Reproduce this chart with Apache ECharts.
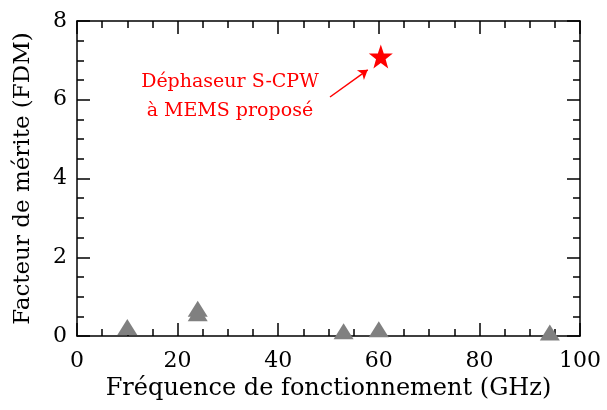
<!DOCTYPE html>
<html>
<head>
<meta charset="utf-8">
<script src="https://cdn.jsdelivr.net/npm/echarts@6/dist/echarts.min.js"></script>
<style>
  html, body { margin: 0; padding: 0; background: #fff; }
  #chart { width: 607px; height: 410px; }
</style>
</head>
<body>
<div id="chart"></div>
<script>
// etat de l'art (triangles gris)
var etatArt = [
  [10, 0.23],
  [24, 0.69],
  [24, 0.58],
  [53, 0.12],
  [60, 0.17],
  [94, 0.09]
];
// ce travail (etoile rouge)
var propose = [[60.4, 7.1]];
var annotation = 'Déphaseur S-CPW\nà MEMS proposé';
var flecheDebut = [50.3, 6.07];
var flecheFin = [57.8, 6.76];
var texteAncre = [30.4, 6.07];

var police = 'DejaVu Serif';
var chart = echarts.init(document.getElementById('chart'));

function axeX(pos, labels) {
  return {
    type: 'value',
    position: pos,
    min: 0, max: 100, interval: 20,
    name: labels ? 'Fréquence de fonctionnement (GHz)' : '',
    nameLocation: 'middle',
    nameGap: 36,
    nameTextStyle: { fontFamily: police, fontSize: 24, color: '#000' },
    axisLine: { show: true, onZero: false, lineStyle: { color: '#000', width: 1.5 } },
    axisTick: { show: true, inside: true, length: 13, lineStyle: { color: '#000', width: 1.5 } },
    minorTick: { show: true, splitNumber: 4, length: 7, lineStyle: { color: '#000', width: 1.5 } },
    axisLabel: { show: labels, fontFamily: police, fontSize: 22, color: '#000', margin: 14 },
    splitLine: { show: false }
  };
}

function axeY(pos, labels) {
  return {
    type: 'value',
    position: pos,
    min: 0, max: 8, interval: 2,
    name: labels ? 'Facteur de mérite (FDM)' : '',
    nameLocation: 'middle',
    nameGap: 42,
    nameTextStyle: { fontFamily: police, fontSize: 23, color: '#000' },
    axisLine: { show: true, onZero: false, lineStyle: { color: '#000', width: 1.5 } },
    axisTick: { show: true, inside: true, length: 13, lineStyle: { color: '#000', width: 1.5 } },
    minorTick: { show: true, splitNumber: 4, length: 7, lineStyle: { color: '#000', width: 1.5 } },
    axisLabel: { show: labels, fontFamily: police, fontSize: 22, color: '#000', margin: 10 },
    splitLine: { show: false }
  };
}

var option = {
  animation: false,
  grid: { left: 77, right: 27, top: 21, bottom: 74 },
  xAxis: [axeX('bottom', true), axeX('top', false)],
  yAxis: [axeY('left', true), axeY('right', false)],
  series: [
    {
      type: 'scatter',
      symbol: 'triangle',
      symbolSize: [20, 16],
      itemStyle: { color: '#808080', opacity: 1 },
      data: etatArt
    },
    {
      type: 'scatter',
      symbol: 'path://M0,-10 L2.35,-3.24 L9.51,-3.09 L3.8,1.24 L5.88,8.09 L0,4 L-5.88,8.09 L-3.8,1.24 L-9.51,-3.09 L-2.35,-3.24 Z',
      symbolSize: 24,
      itemStyle: { color: '#ff0000', opacity: 1 },
      data: propose,
      markLine: {
        silent: true,
        symbol: ['none', 'arrow'],
        symbolSize: 9,
        lineStyle: { color: '#ff0000', width: 1.5, type: 'solid' },
        label: { show: false },
        data: [[{ coord: flecheDebut }, { coord: flecheFin }]]
      },
      markPoint: {
        silent: true,
        symbol: 'circle',
        symbolSize: 0,
        label: {
          show: true,
          position: 'inside',
          formatter: annotation,
          fontFamily: police,
          fontSize: 19,
          lineHeight: 29,
          color: '#ff0000',
          align: 'center'
        },
        data: [{ coord: texteAncre }]
      }
    }
  ]
};

chart.setOption(option);
</script>
</body>
</html>
